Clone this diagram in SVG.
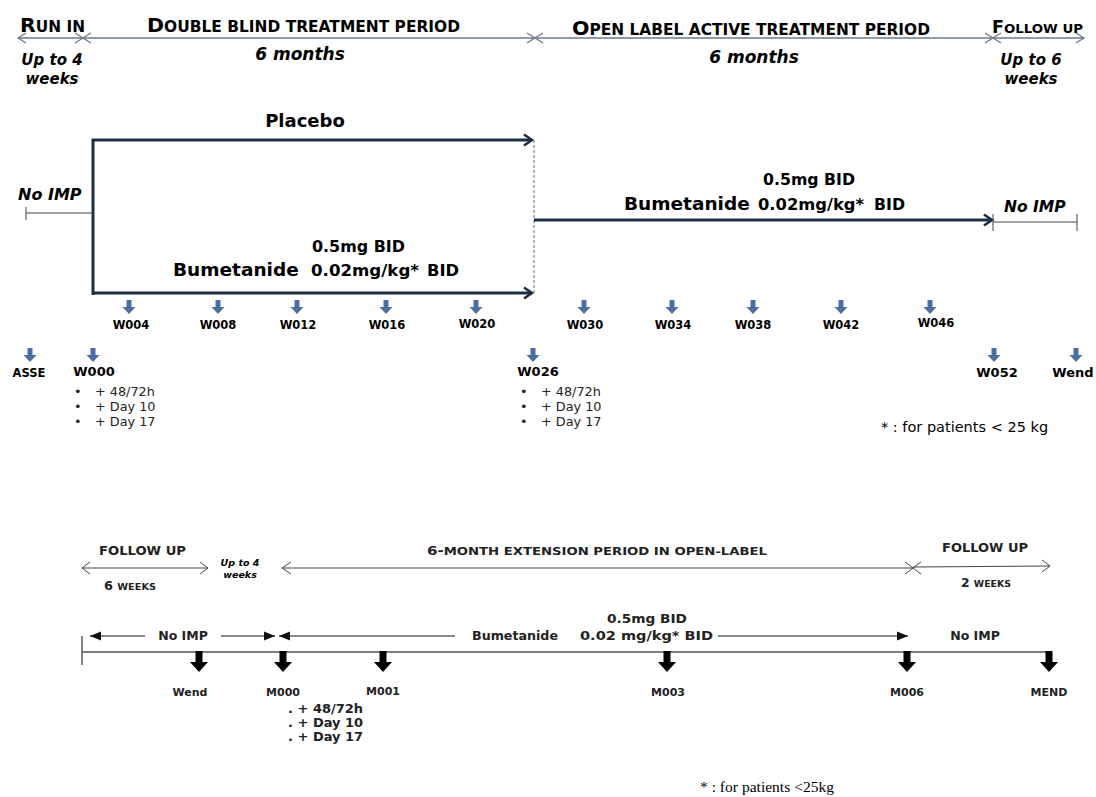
<svg xmlns="http://www.w3.org/2000/svg" width="1096" height="797" viewBox="0 0 1096 797">
<style>
  text { font-family: "DejaVu Sans", Verdana, sans-serif; fill: #000; }
  .hdr { font-weight: bold; font-size: 20px; }
  .sc { font-size: 15px; }
  .bi { font-weight: bold; font-style: italic; font-size: 15px; }
  .b { font-weight: bold; }
  .lab { font-weight: bold; font-size: 11.5px; text-anchor: middle; }
  .bul { font-size: 12.8px; fill: #222; }
  .chev { fill: none; stroke: #6b7a8c; stroke-width: 1.3; }
  .hline { stroke: #6b7a8c; stroke-width: 1.3; }
  .navy { fill: none; stroke: #1f2e45; stroke-width: 3; }
  .thin { stroke: #444; stroke-width: 1; fill: none; }
  .blab { font-weight: bold; font-size: 11px; text-anchor: middle; fill: #222; }
  .bt { font-weight: bold; font-size: 12.5px; fill: #222; }
</style>
<defs>
  <path id="ba" d="M-2.5,0 h5 v7 h4 l-6.5,7 l-6.5,-7 h4 z" fill="#4a6fa3"/>
  <path id="ka" d="M-3.5,0 h7 v11 h5.5 l-9,10 l-9,-10 h5.5 z" fill="#000"/>
  <marker id="nav" markerWidth="14" markerHeight="14" refX="11" refY="7" orient="auto" markerUnits="userSpaceOnUse">
    <path d="M3,1.5 L11,7 L3,12.5" fill="none" stroke="#1f2e45" stroke-width="2.6"/>
  </marker>
  <marker id="fa" markerWidth="12" markerHeight="10" refX="11" refY="5" orient="auto" markerUnits="userSpaceOnUse">
    <path d="M0,0.5 L11,5 L0,9.5 z" fill="#111"/>
  </marker>
  <marker id="fas" markerWidth="12" markerHeight="10" refX="1" refY="5" orient="auto" markerUnits="userSpaceOnUse">
    <path d="M12,0.5 L1,5 L12,9.5 z" fill="#111"/>
  </marker>
</defs>

<!-- Top header -->
<g id="header">
  <line class="hline" x1="18" y1="38" x2="1084" y2="38"/>
  <path class="chev" d="M26,33 L18,38 L26,43"/>
  <path class="chev" d="M75,33 L83,38 L75,43 M91,33 L83,38 L91,43"/>
  <path class="chev" d="M527,33 L535,38 L527,43 M543,33 L535,38 L543,43"/>
  <path class="chev" d="M985,33 L993,38 L985,43 M1001,33 L993,38 L1001,43"/>
  <path class="chev" d="M1076,33 L1084,38 L1076,43"/>
  <text class="hdr" x="20" y="32" textLength="65" lengthAdjust="spacingAndGlyphs">R<tspan class="sc">UN IN</tspan></text>
  <text class="hdr" x="147" y="32" textLength="313" lengthAdjust="spacingAndGlyphs">D<tspan class="sc">OUBLE BLIND TREATMENT PERIOD</tspan></text>
  <text class="hdr" x="572" y="35" textLength="358" lengthAdjust="spacingAndGlyphs">O<tspan class="sc">PEN LABEL ACTIVE TREATMENT PERIOD</tspan></text>
  <text class="hdr" x="992" y="33" textLength="91" lengthAdjust="spacingAndGlyphs" style="font-size:17px">F<tspan style="font-size:13px">OLLOW UP</tspan></text>
  <text class="bi" x="52" y="65" text-anchor="middle">Up to 4</text>
  <text class="bi" x="52" y="84" text-anchor="middle">weeks</text>
  <text class="bi" x="300" y="60" text-anchor="middle" style="font-size:17px">6 months</text>
  <text class="bi" x="754" y="63" text-anchor="middle" style="font-size:17px">6 months</text>
  <text class="bi" x="1031" y="65" text-anchor="middle">Up to 6</text>
  <text class="bi" x="1031" y="84" text-anchor="middle">weeks</text>
</g>

<!-- Treatment arms -->
<g id="connectors">
  <path class="navy" d="M93,295 V140 H532" marker-end="url(#nav)"/>
  <path class="navy" d="M93,293 H532" marker-end="url(#nav)"/>
  <line x1="534" y1="140" x2="534" y2="293" stroke="#666" stroke-width="1" stroke-dasharray="3,2"/>
  <path class="navy" d="M534,220 H992" marker-end="url(#nav)"/>
  <path class="thin" d="M26,213 H93 M26,207 V220"/>
  <path class="thin" d="M993,222 H1077 M993,214 V231 M1077,214 V231"/>
</g>
<g id="placebo">
  <text class="b" x="305" y="127" text-anchor="middle" font-size="18">Placebo</text>
</g>
<g id="noimp-left">
  <text class="bi" x="18" y="200" style="font-size:16px">No IMP</text>
</g>
<g id="bumetanide-db">
  <text class="b" x="312" y="252" font-size="15.5" textLength="93" lengthAdjust="spacingAndGlyphs">0.5mg BID</text>
  <text class="b" x="173" y="276" font-size="18.5">Bumetanide</text>
  <text class="b" x="311" y="276" font-size="15.5" textLength="108" lengthAdjust="spacingAndGlyphs">0.02mg/kg*</text>
  <text class="b" x="427" y="276" font-size="15.5" textLength="32" lengthAdjust="spacingAndGlyphs">BID</text>
</g>
<g id="bumetanide-ol">
  <text class="b" x="763" y="185" font-size="15.5" textLength="92" lengthAdjust="spacingAndGlyphs">0.5mg BID</text>
  <text class="b" x="624" y="210" font-size="18.5">Bumetanide</text>
  <text class="b" x="758" y="210" font-size="15.5" textLength="106" lengthAdjust="spacingAndGlyphs">0.02mg/kg*</text>
  <text class="b" x="874" y="210" font-size="15.5" textLength="31" lengthAdjust="spacingAndGlyphs">BID</text>
</g>
<g id="noimp-right">
  <text class="bi" x="1004" y="212" style="font-size:15.5px">No IMP</text>
</g>

<!-- Visits row 1 -->
<g id="visits-row1">
  <use href="#ba" x="129" y="300"/><text class="lab" x="131" y="329">W004</text>
  <use href="#ba" x="218" y="300"/><text class="lab" x="218" y="329">W008</text>
  <use href="#ba" x="297" y="300"/><text class="lab" x="298" y="329">W012</text>
  <use href="#ba" x="386" y="300"/><text class="lab" x="387" y="329">W016</text>
  <use href="#ba" x="476" y="300"/><text class="lab" x="477" y="328">W020</text>
  <use href="#ba" x="584" y="300"/><text class="lab" x="585" y="329">W030</text>
  <use href="#ba" x="672" y="300"/><text class="lab" x="673" y="329">W034</text>
  <use href="#ba" x="753" y="300"/><text class="lab" x="753" y="329">W038</text>
  <use href="#ba" x="841" y="300"/><text class="lab" x="841" y="329">W042</text>
  <use href="#ba" x="930" y="300"/><text class="lab" x="936" y="327">W046</text>
</g>
<!-- Visits row 2 -->
<g id="visits-row2">
  <use href="#ba" x="30" y="348"/><text class="lab" x="29" y="377">ASSE</text>
  <use href="#ba" x="93" y="348"/><text class="lab" x="94" y="376" style="font-size:13px">W000</text>
  <use href="#ba" x="533" y="348"/><text class="lab" x="538" y="376" style="font-size:13px">W026</text>
  <use href="#ba" x="994" y="348"/><text class="lab" x="997" y="377" style="font-size:13px">W052</text>
  <use href="#ba" x="1076" y="348"/><text class="lab" x="1073" y="377" style="font-size:13px">Wend</text>
</g>
<g id="w000-extra">
  <text class="bul" x="74" y="396">•</text><text class="bul" x="95" y="396">+ 48/72h</text>
  <text class="bul" x="74" y="411">•</text><text class="bul" x="95" y="411">+ Day 10</text>
  <text class="bul" x="74" y="426">•</text><text class="bul" x="95" y="426">+ Day 17</text>
</g>
<g id="w026-extra">
  <text class="bul" x="520" y="396">•</text><text class="bul" x="541" y="396">+ 48/72h</text>
  <text class="bul" x="520" y="411">•</text><text class="bul" x="541" y="411">+ Day 10</text>
  <text class="bul" x="520" y="426">•</text><text class="bul" x="541" y="426">+ Day 17</text>
</g>
<g id="footnote1">
  <text x="881" y="432" font-size="14.5" fill="#222">* : for patients &lt; 25 kg</text>
</g>

<!-- Extension section -->
<g id="ext-header">
  <path class="thin" d="M82,568 H208 M90,562 L82,568 L90,574 M200,562 L208,568 L200,574"/>
  <text class="bt" x="99" y="555" textLength="87" lengthAdjust="spacingAndGlyphs">FOLLOW UP</text>
  <text class="bt" x="104" y="590" textLength="52" lengthAdjust="spacingAndGlyphs">6 <tspan style="font-size:9.5px">WEEKS</tspan></text>
  <text x="240" y="566" text-anchor="middle" font-size="9.5" font-weight="bold" font-style="italic" fill="#333">Up to 4</text>
  <text x="240" y="578" text-anchor="middle" font-size="9.5" font-weight="bold" font-style="italic" fill="#333">weeks</text>
  <path class="thin" d="M282,568 H913 M291,562 L282,568 L291,574 M905,562 L913,568 L905,574 M921,562 L913,568 L921,574"/>
  <text class="bt" x="427" y="555" textLength="340" lengthAdjust="spacingAndGlyphs">6-<tspan style="font-size:11px">MONTH EXTENSION PERIOD IN OPEN-LABEL</tspan></text>
  <path class="thin" d="M913,567 L1050,566 M1042,560 L1050,566 L1042,572"/>
  <text class="bt" x="942" y="552" textLength="86" lengthAdjust="spacingAndGlyphs">FOLLOW UP</text>
  <text class="bt" x="961" y="587" textLength="50" lengthAdjust="spacingAndGlyphs">2 <tspan style="font-size:9.5px">WEEKS</tspan></text>
</g>
<g id="ext-timeline">
  <line x1="82" y1="652" x2="1050" y2="652" stroke="#555" stroke-width="1.5"/>
  <line x1="82" y1="636" x2="82" y2="665" stroke="#333" stroke-width="1.2"/>
  <line x1="90" y1="636" x2="145" y2="636" stroke="#111" stroke-width="1" marker-start="url(#fas)"/>
  <text class="bt" x="183" y="640" text-anchor="middle">No IMP</text>
  <line x1="221" y1="636" x2="275" y2="636" stroke="#111" stroke-width="1" marker-end="url(#fa)"/>
  <line x1="279" y1="636" x2="455" y2="636" stroke="#111" stroke-width="1" marker-start="url(#fas)"/>
  <text class="bt" x="472" y="640" textLength="86" lengthAdjust="spacingAndGlyphs">Bumetanide</text>
  <text class="bt" x="607" y="623" textLength="80" lengthAdjust="spacingAndGlyphs">0.5mg  BID</text>
  <text class="bt" x="580" y="640" textLength="133" lengthAdjust="spacingAndGlyphs">0.02  mg/kg*  BID</text>
  <line x1="718" y1="636" x2="908" y2="636" stroke="#111" stroke-width="1" marker-end="url(#fa)"/>
  <text class="bt" x="975" y="640" text-anchor="middle">No IMP</text>
</g>
<g id="ext-visits">
  <use href="#ka" x="199" y="651"/><text class="blab" x="190" y="696">Wend</text>
  <use href="#ka" x="283" y="651"/><text class="blab" x="283" y="696">M000</text>
  <use href="#ka" x="383" y="651"/><text class="blab" x="383" y="695">M001</text>
  <use href="#ka" x="667" y="651"/><text class="blab" x="668" y="696">M003</text>
  <use href="#ka" x="907" y="651"/><text class="blab" x="907" y="696">M006</text>
  <use href="#ka" x="1049" y="651"/><text class="blab" x="1049" y="696">MEND</text>
</g>
<g id="m000-extra">
  <text class="bt" x="288" y="713" style="font-size:13px">. + 48/72h</text>
  <text class="bt" x="288" y="727" style="font-size:13px">. + Day 10</text>
  <text class="bt" x="288" y="741" style="font-size:13px">. + Day 17</text>
</g>
<g id="footnote2">
  <text x="700" y="792" style="font-family:'Liberation Serif', serif; font-size:15px" textLength="134" lengthAdjust="spacingAndGlyphs">* : for patients &lt;25kg</text>
</g>
</svg>
